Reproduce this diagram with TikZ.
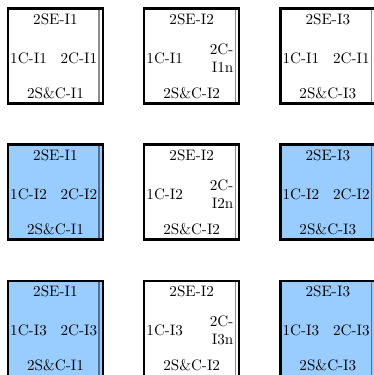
\documentclass[tikz,border=0pt]{standalone}
\usetikzlibrary{positioning}

\definecolor{cellblue}{RGB}{153,204,255}

\begin{document}
\begin{tikzpicture}[
    % general settings
    node distance=27.2pt,
    % boxes
    cell/.style={rectangle, minimum width=62.7pt, minimum height=62.7pt,
                 inner sep=0pt, outer sep=0pt, line width=1.7pt, draw=black},
    plain/.style={cell, fill=white},
    marked/.style={cell, fill=cellblue},
    % thin line along the right side
    innerline/.style={draw=black, draw opacity=0.45, line width=0.7pt},
    % texts
    lbl/.style={inner sep=1pt, text=black},
    toplbl/.style={lbl, below=2pt of #1},
    botlbl/.style={lbl, above=2pt of #1},
    leftlbl/.style={lbl, right=0.3pt of #1, yshift=-1.3pt},
    rightlbl/.style={lbl, left=2.6pt of #1, yshift=-1.3pt, align=right},
  ]

  % page size
  \useasboundingbox (0,0) rectangle (246.8pt,-247.5pt);

  % row 1
  \node (b11) [plain] at (36.6pt,-37pt) {};
  \node (b12) [plain, right=of b11]     {};
  \node (b13) [plain, right=of b12]     {};

  % row 2
  \node (b21) [marked, below=of b11]    {};
  \node (b22) [plain,  right=of b21]    {};
  \node (b23) [marked, right=of b22]    {};

  % row 3
  \node (b31) [marked, below=of b21]    {};
  \node (b32) [plain,  right=of b31]    {};
  \node (b33) [marked, right=of b32]    {};

  % inner lines
  \draw[innerline] ([xshift=-2.6pt]b11.north east) -- ([xshift=-2.6pt]b11.south east);
  \draw[innerline] ([xshift=-2.6pt]b12.north east) -- ([xshift=-2.6pt]b12.south east);
  \draw[innerline] ([xshift=-2.6pt]b13.north east) -- ([xshift=-2.6pt]b13.south east);
  \draw[innerline] ([xshift=-2.6pt]b21.north east) -- ([xshift=-2.6pt]b21.south east);
  \draw[innerline] ([xshift=-2.6pt]b22.north east) -- ([xshift=-2.6pt]b22.south east);
  \draw[innerline] ([xshift=-2.6pt]b23.north east) -- ([xshift=-2.6pt]b23.south east);
  \draw[innerline] ([xshift=-2.6pt]b31.north east) -- ([xshift=-2.6pt]b31.south east);
  \draw[innerline] ([xshift=-2.6pt]b32.north east) -- ([xshift=-2.6pt]b32.south east);
  \draw[innerline] ([xshift=-2.6pt]b33.north east) -- ([xshift=-2.6pt]b33.south east);

  % texts of row 1
  \node (t11) [toplbl=b11.north]   {2SE-I1};
  \node (l11) [leftlbl=b11.west]   {1C-I1};
  \node (r11) [rightlbl=b11.east]  {2C-I1};
  \node (s11) [botlbl=b11.south]   {2S\&C-I1};

  \node (t12) [toplbl=b12.north]   {2SE-I2};
  \node (l12) [leftlbl=b12.west]   {1C-I1};
  \node (r12) [rightlbl=b12.east]  {2C-\\I1n};
  \node (s12) [botlbl=b12.south]   {2S\&C-I2};

  \node (t13) [toplbl=b13.north]   {2SE-I3};
  \node (l13) [leftlbl=b13.west]   {1C-I1};
  \node (r13) [rightlbl=b13.east]  {2C-I1};
  \node (s13) [botlbl=b13.south]   {2S\&C-I3};

  % texts of row 2
  \node (t21) [toplbl=b21.north]   {2SE-I1};
  \node (l21) [leftlbl=b21.west]   {1C-I2};
  \node (r21) [rightlbl=b21.east]  {2C-I2};
  \node (s21) [botlbl=b21.south]   {2S\&C-I1};

  \node (t22) [toplbl=b22.north]   {2SE-I2};
  \node (l22) [leftlbl=b22.west]   {1C-I2};
  \node (r22) [rightlbl=b22.east]  {2C-\\I2n};
  \node (s22) [botlbl=b22.south]   {2S\&C-I2};

  \node (t23) [toplbl=b23.north]   {2SE-I3};
  \node (l23) [leftlbl=b23.west]   {1C-I2};
  \node (r23) [rightlbl=b23.east]  {2C-I2};
  \node (s23) [botlbl=b23.south]   {2S\&C-I3};

  % texts of row 3
  \node (t31) [toplbl=b31.north]   {2SE-I1};
  \node (l31) [leftlbl=b31.west]   {1C-I3};
  \node (r31) [rightlbl=b31.east]  {2C-I3};
  \node (s31) [botlbl=b31.south]   {2S\&C-I1};

  \node (t32) [toplbl=b32.north]   {2SE-I2};
  \node (l32) [leftlbl=b32.west]   {1C-I3};
  \node (r32) [rightlbl=b32.east]  {2C-\\I3n};
  \node (s32) [botlbl=b32.south]   {2S\&C-I2};

  \node (t33) [toplbl=b33.north]   {2SE-I3};
  \node (l33) [leftlbl=b33.west]   {1C-I3};
  \node (r33) [rightlbl=b33.east]  {2C-I3};
  \node (s33) [botlbl=b33.south]   {2S\&C-I3};

\end{tikzpicture}
\end{document}
